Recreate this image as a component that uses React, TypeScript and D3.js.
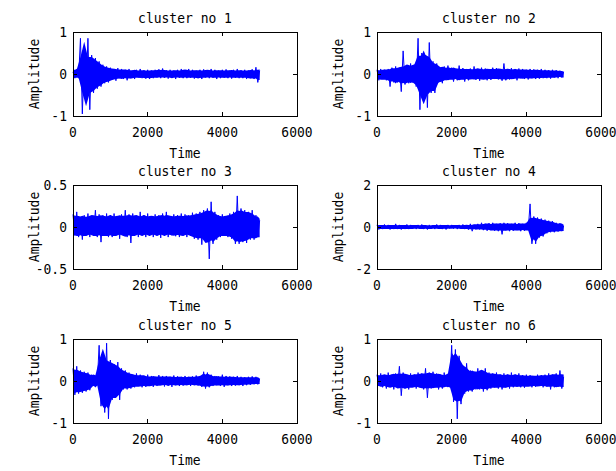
import * as d3 from "d3";

// sample spacing of the waveforms (time units)
const sampleStep = 50;

const titles = ["cluster no 1", "cluster no 2", "cluster no 3", "cluster no 4", "cluster no 5", "cluster no 6"];
const xTicks = [0, 2000, 4000, 6000];
const yTicksList = [
  [-1, 0, 1],
  [-1, 0, 1],
  [-0.5, 0, 0.5],
  [-2, 0, 2],
  [-1, 0, 1],
  [-1, 0, 1],
];

// amplitude samples, t = 0, 50, ..., 5000
const cluster1 = [
  0.05, -0.1, 0.12, -0.1, 0.85, -0.95, 0.45, -0.5, 0.85, -0.85,
  0.45, -0.45, 0.38, -0.35, 0.3, -0.3, 0.22, -0.22, 0.18, -0.2,
  0.15, -0.13, 0.12, -0.16, 0.14, -0.1, 0.12, -0.12, 0.1, -0.15,
  0.12, -0.1, 0.08, -0.12, 0.1, -0.08, 0.12, -0.1, 0.09, -0.11,
  0.1, -0.12, 0.08, -0.1, 0.1, -0.08, 0.11, -0.1, 0.13, -0.09,
  0.09, -0.11, 0.1, -0.08, 0.08, -0.12, 0.1, -0.09, 0.12, -0.1,
  0.08, -0.1, 0.12, -0.09, 0.1, -0.11, 0.08, -0.1, 0.1, -0.12,
  0.11, -0.08, 0.09, -0.1, 0.12, -0.09, 0.1, -0.12, 0.08, -0.1,
  0.1, -0.09, 0.11, -0.1, 0.08, -0.11, 0.1, -0.09, 0.12, -0.1,
  0.09, -0.1, 0.1, -0.12, 0.08, -0.1, 0.11, -0.12, 0.16, -0.2,
  0.08,
];
const cluster2 = [
  0.1, -0.15, 0.12, -0.12, 0.1, -0.15, 0.12, -0.3, 0.15, -0.2,
  0.18, -0.2, 0.15, -0.42, 0.55, -0.25, 0.2, -0.22, 0.25, -0.2,
  0.22, -0.3, 0.85, -0.85, 0.5, -0.55, 0.45, -0.8, 0.75, -0.45,
  0.3, -0.45, 0.25, -0.2, 0.15, -0.22, 0.18, -0.15, 0.2, -0.12,
  0.15, -0.18, 0.12, -0.15, 0.2, -0.12, 0.14, -0.18, 0.12, -0.15,
  0.13, -0.12, 0.18, -0.14, 0.12, -0.16, 0.15, -0.12, 0.13, -0.15,
  0.12, -0.14, 0.15, -0.12, 0.14, -0.13, 0.12, -0.16, 0.25, -0.15,
  0.12, -0.13, 0.14, -0.12, 0.12, -0.15, 0.13, -0.1, 0.12, -0.12,
  0.1, -0.13, 0.12, -0.1, 0.11, -0.12, 0.1, -0.11, 0.12, -0.1,
  0.1, -0.1, 0.09, -0.11, 0.1, -0.08, 0.09, -0.1, 0.08, -0.08,
  0.05,
];
const cluster3 = [
  0.15, -0.1, 0.18, -0.12, 0.12, -0.15, 0.14, -0.1, 0.16, -0.12,
  0.13, -0.1, 0.2, -0.12, 0.15, -0.18, 0.14, -0.1, 0.16, -0.12,
  0.14, -0.12, 0.16, -0.1, 0.13, -0.14, 0.15, -0.1, 0.2, -0.12,
  0.15, -0.19, 0.16, -0.1, 0.13, -0.12, 0.18, -0.1, 0.14, -0.12,
  0.16, -0.1, 0.13, -0.12, 0.15, -0.1, 0.14, -0.13, 0.16, -0.1,
  0.18, -0.12, 0.13, -0.1, 0.15, -0.11, 0.14, -0.12, 0.16, -0.1,
  0.15, -0.12, 0.14, -0.1, 0.17, -0.14, 0.16, -0.15, 0.18, -0.21,
  0.2, -0.15, 0.22, -0.38, 0.3, -0.2, 0.18, -0.15, 0.14, -0.12,
  0.15, -0.1, 0.13, -0.12, 0.16, -0.14, 0.18, -0.2, 0.37, -0.2,
  0.22, -0.18, 0.2, -0.19, 0.18, -0.15, 0.2, -0.15, 0.14, -0.12,
  0.08,
];
const cluster4 = [
  0.1, -0.12, 0.08, -0.1, 0.12, -0.08, 0.1, -0.12, 0.08, -0.1,
  0.15, -0.1, 0.1, -0.12, 0.08, -0.1, 0.12, -0.1, 0.1, -0.08,
  0.08, -0.1, 0.1, -0.08, 0.12, -0.1, 0.08, -0.12, 0.1, -0.08,
  0.08, -0.1, 0.12, -0.08, 0.1, -0.1, 0.08, -0.12, 0.1, -0.08,
  0.1, -0.08, 0.08, -0.1, 0.1, -0.08, 0.12, -0.1, 0.08, -0.12,
  0.15, -0.2, 0.1, -0.12, 0.15, -0.12, 0.2, -0.15, 0.15, -0.18,
  0.18, -0.15, 0.2, -0.18, 0.15, -0.2, 0.18, -0.35, 0.2, -0.15,
  0.18, -0.2, 0.15, -0.18, 0.2, -0.15, 0.18, -0.2, 0.15, -0.18,
  0.2, -0.15, 1.1, -0.8, 0.5, -0.8, 0.45, -0.5, 0.4, -0.45,
  0.35, -0.3, 0.3, -0.25, 0.28, -0.25, 0.2, -0.22, 0.18, -0.2,
  0.05,
];
const cluster5 = [
  0.3, -0.33, 0.35, -0.3, 0.25, -0.28, 0.22, -0.25, 0.2, -0.22,
  0.15, -0.12, 0.06, -0.05, 0.85, -0.6, 0.55, -0.75, 0.9, -0.9,
  0.5, -0.45, 0.4, -0.35, 0.45, -0.45, 0.3, -0.2, 0.25, -0.2,
  0.2, -0.18, 0.15, -0.15, 0.18, -0.12, 0.15, -0.15, 0.12, -0.14,
  0.15, -0.12, 0.12, -0.14, 0.1, -0.12, 0.14, -0.1, 0.12, -0.13,
  0.12, -0.1, 0.1, -0.14, 0.13, -0.1, 0.11, -0.12, 0.1, -0.11,
  0.12, -0.1, 0.1, -0.12, 0.11, -0.1, 0.13, -0.11, 0.12, -0.14,
  0.22, -0.18, 0.2, -0.15, 0.15, -0.12, 0.12, -0.1, 0.11, -0.12,
  0.15, -0.14, 0.12, -0.1, 0.11, -0.12, 0.1, -0.11, 0.12, -0.1,
  0.1, -0.12, 0.09, -0.1, 0.1, -0.09, 0.11, -0.08, 0.1, -0.08,
  0.05,
];
const cluster6 = [
  0.15, -0.12, 0.18, -0.15, 0.12, -0.18, 0.2, -0.12, 0.15, -0.2,
  0.18, -0.15, 0.35, -0.35, 0.2, -0.18, 0.15, -0.2, 0.18, -0.12,
  0.15, -0.18, 0.2, -0.15, 0.18, -0.2, 0.3, -0.4, 0.2, -0.18,
  0.22, -0.15, 0.18, -0.2, 0.15, -0.18, 0.2, -0.12, 0.15, -0.15,
  0.85, -0.5, 0.75, -0.9, 0.6, -0.55, 0.35, -0.3, 0.42, -0.25,
  0.25, -0.25, 0.22, -0.2, 0.3, -0.2, 0.25, -0.25, 0.3, -0.22,
  0.2, -0.18, 0.18, -0.15, 0.2, -0.18, 0.15, -0.2, 0.18, -0.15,
  0.15, -0.18, 0.2, -0.15, 0.15, -0.14, 0.18, -0.15, 0.14, -0.16,
  0.15, -0.12, 0.14, -0.15, 0.12, -0.14, 0.15, -0.12, 0.14, -0.15,
  0.15, -0.13, 0.18, -0.2, 0.15, -0.15, 0.18, -0.14, 0.25, -0.18,
  0.1,
];
const clusters = [cluster1, cluster2, cluster3, cluster4, cluster5, cluster6];

const W = 616;
const H = 471;
const colX = [73, 377];
const rowY = [32, 185, 339];
const pw = 224;
const ph = 84;
const tickLen = 4;

const Txt = ({ x, y, anchor = "middle", rotate = 0, children }: any) => (
  <text
    transform={`translate(${x},${y}) rotate(${rotate}) scale(1,1.15)`}
    textAnchor={anchor}
    fontFamily="'DejaVu Sans Mono', monospace"
    fontSize={13}
    fill="#000"
  >
    {children}
  </text>
);

// median of the positive (or negative) samples around index i
const localLevel = (data: number[], i: number, sign: number) => {
  const win = data.slice(Math.max(0, i - 3), i + 4).filter((v) => v * sign > 0);
  return d3.median(win) ?? 0;
};

const Panel = ({ idx }: { idx: number }) => {
  const x0 = colX[idx % 2];
  const y0 = rowY[Math.floor(idx / 2)];
  const yTicks = yTicksList[idx];
  const data = clusters[idx];

  const x = d3.scaleLinear().domain([0, 6000]).range([x0, x0 + pw]);
  const y = d3
    .scaleLinear()
    .domain([yTicks[0], yTicks[yTicks.length - 1]])
    .range([y0 + ph, y0]);
  const line = d3
    .line<number>()
    .x((_, i) => x(i * sampleStep))
    .y((d) => y(d));
  // solid core of the trace, between the local typical swings
  const core = d3
    .area<number>()
    .x((_, i) => x(i * sampleStep))
    .y0((_, i) => y(localLevel(data, i, -1) * 0.9))
    .y1((_, i) => y(localLevel(data, i, 1) * 0.9));

  return (
    <g>
      <path d={core(data) || ""} fill="#0000ff" />
      <path d={line(data) || ""} fill="none" stroke="#0000ff" strokeWidth={1} />
      <g stroke="#000" strokeWidth={1} shapeRendering="crispEdges">
        <rect x={x0} y={y0} width={pw} height={ph} fill="none" />
        {xTicks.map((t) => (
          <g key={"x" + t}>
            <line x1={x(t)} x2={x(t)} y1={y0 + ph} y2={y0 + ph - tickLen} />
            <line x1={x(t)} x2={x(t)} y1={y0} y2={y0 + tickLen} />
          </g>
        ))}
        {yTicks.map((t) => (
          <g key={"y" + t}>
            <line x1={x0} x2={x0 + tickLen} y1={y(t)} y2={y(t)} />
            <line x1={x0 + pw} x2={x0 + pw - tickLen} y1={y(t)} y2={y(t)} />
          </g>
        ))}
      </g>
      {xTicks.map((t) => (
        <Txt key={"xl" + t} x={x(t)} y={y0 + ph + 21}>
          {String(t)}
        </Txt>
      ))}
      {yTicks.map((t) => (
        <Txt key={"yl" + t} x={x0 - 6} y={y(t) + 5} anchor="end">
          {String(t)}
        </Txt>
      ))}
      <Txt x={x0 + pw / 2} y={y0 - 9}>
        {titles[idx]}
      </Txt>
      <Txt x={x0 + pw / 2} y={y0 + ph + 42}>
        Time
      </Txt>
      <Txt x={x0 - 34} y={y0 + ph / 2} rotate={-90}>
        Amplitude
      </Txt>
    </g>
  );
};

export default function App() {
  return (
    <svg
      width={W}
      height={H}
      style={{ position: "absolute", left: 0, top: 0, background: "#fff" }}
    >
      <rect width={W} height={H} fill="#fff" />
      {clusters.map((_, i) => (
        <Panel key={i} idx={i} />
      ))}
    </svg>
  );
}
